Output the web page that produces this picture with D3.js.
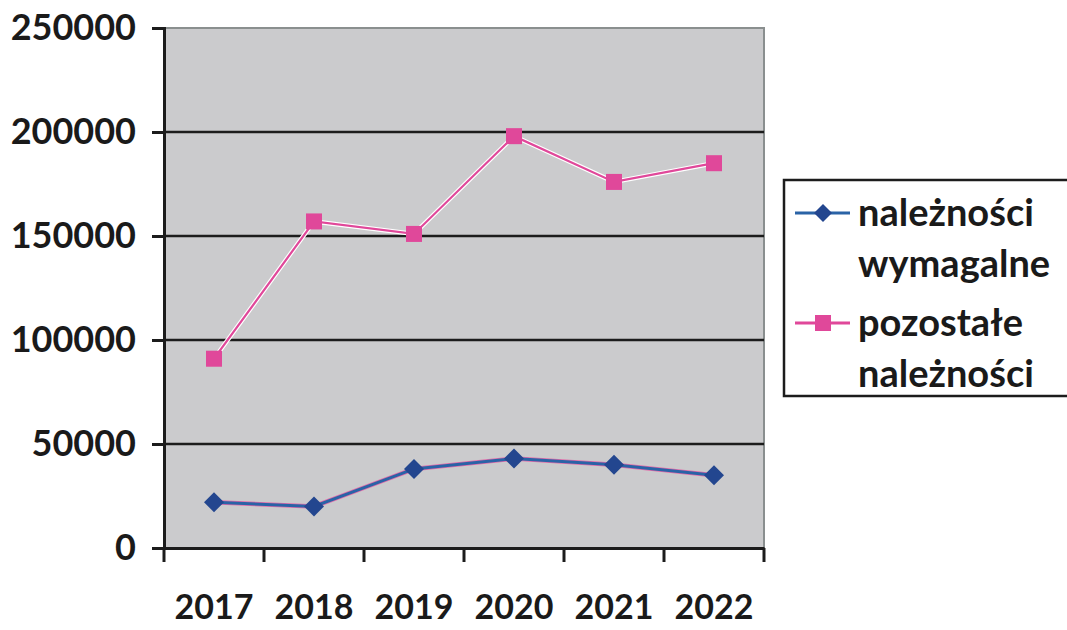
<!DOCTYPE html>
<html>
<head>
<meta charset="utf-8">
<script src="https://cdn.jsdelivr.net/npm/d3@7"></script>
<style>
  body { margin: 0; background: #fff; }
  svg text { font-family: Lato, "Open Sans", sans-serif; font-weight: bold; fill: #1a1a1a; }
</style>
</head>
<body>
<svg id="chart" width="1067" height="630"></svg>
<script>
var years = ["2017", "2018", "2019", "2020", "2021", "2022"];
var wymagalne = [22000, 20000, 38000, 43000, 40000, 35000];
var pozostale = [91000, 157000, 151000, 198000, 176000, 185000];
var yTicks = [0, 50000, 100000, 150000, 200000, 250000];
var legendLabels = [["należności", "wymagalne"], ["pozostałe", "należności"]];

var svg = d3.select("#chart");
var margin = { top: 28, left: 164, right: 303, bottom: 82 };
var width = 1067 - margin.left - margin.right;
var height = 630 - margin.top - margin.bottom;

var x = d3.scaleBand().domain(years).range([0, width]);
var y = d3.scaleLinear().domain([0, 250000]).range([height, 0]);

var g = svg.append("g")
    .attr("transform", "translate(" + margin.left + "," + margin.top + ")");

// plot background
g.append("rect")
    .attr("width", width).attr("height", height)
    .attr("fill", "#cbcbcd")
    .attr("stroke", "#8a8f8f").attr("stroke-width", 2);

// gridlines
g.selectAll(".grid").data(yTicks.slice(1, -1)).enter()
    .append("line")
    .attr("x1", 0).attr("x2", width)
    .attr("y1", d => y(d)).attr("y2", d => y(d))
    .attr("stroke", "#1c1c1c").attr("stroke-width", 2.5);

// y axis
var yAxis = g.append("g")
    .call(d3.axisLeft(y).tickValues(yTicks).tickSize(12).tickPadding(16).tickFormat(d3.format("d")));
yAxis.select(".domain").attr("stroke", "#1c1c1c").attr("stroke-width", 3);
yAxis.selectAll(".tick line").attr("stroke", "#1c1c1c").attr("stroke-width", 3);
yAxis.selectAll("text").attr("font-size", 36).attr("fill", "#1a1a1a");

// x axis
var xAxis = g.append("g")
    .attr("transform", "translate(0," + height + ")")
    .call(d3.axisBottom(x).tickSize(0).tickPadding(47));
xAxis.select(".domain").attr("stroke", "#1c1c1c").attr("stroke-width", 3);
xAxis.selectAll("text").attr("font-size", 34).attr("fill", "#1a1a1a");
xAxis.selectAll(".tickmark")
    .data(d3.range(years.length + 1)).enter()
    .append("line")
    .attr("x1", d => d * x.bandwidth()).attr("x2", d => d * x.bandwidth())
    .attr("y1", 0).attr("y2", 14)
    .attr("stroke", "#1c1c1c").attr("stroke-width", 3);

var cx = d => x(d) + x.bandwidth() / 2;
var line = d3.line().x(d => cx(d.year)).y(d => y(d.v));

var pink = "#e0489a", blue = "#23468f";
var pData = years.map((yr, i) => ({ year: yr, v: pozostale[i] }));
var bData = years.map((yr, i) => ({ year: yr, v: wymagalne[i] }));

// pink series
g.append("path").datum(pData)
    .attr("d", line).attr("fill", "none")
    .attr("stroke", "#fff").attr("stroke-width", 4.5);
g.append("path").datum(pData)
    .attr("d", line).attr("fill", "none")
    .attr("stroke", pink).attr("stroke-width", 2.2);
g.selectAll(".sq").data(pData).enter()
    .append("rect")
    .attr("x", d => cx(d.year) - 8).attr("y", d => y(d.v) - 8)
    .attr("width", 16).attr("height", 16)
    .attr("fill", pink);

// blue series
g.append("path").datum(bData)
    .attr("d", line).attr("fill", "none")
    .attr("stroke", "#e26aa8").attr("stroke-width", 4.5);
g.append("path").datum(bData)
    .attr("d", line).attr("fill", "none")
    .attr("stroke", "#2a63a6").attr("stroke-width", 3);
g.selectAll(".dm").data(bData).enter()
    .append("path")
    .attr("transform", d => "translate(" + cx(d.year) + "," + y(d.v) + ")")
    .attr("d", "M0,-10 L10,0 L0,10 L-10,0 Z")
    .attr("fill", blue);

// legend
var lg = svg.append("g").attr("transform", "translate(784,180)");
lg.append("rect")
    .attr("width", 290).attr("height", 216)
    .attr("fill", "#fff").attr("stroke", "#1c1c1c").attr("stroke-width", 2.5);

var items = lg.selectAll(".item").data(legendLabels).enter()
    .append("g").attr("transform", (d, i) => "translate(0," + (i * 110) + ")");
items.append("line")
    .attr("x1", 11).attr("x2", 66).attr("y1", 33).attr("y2", 33)
    .attr("stroke", (d, i) => i === 0 ? "#2a63a6" : pink).attr("stroke-width", 3);
items.filter((d, i) => i === 0).append("path")
    .attr("transform", "translate(39,33)")
    .attr("d", "M0,-9 L9,0 L0,9 L-9,0 Z").attr("fill", blue);
items.filter((d, i) => i === 1).append("rect")
    .attr("x", 31).attr("y", 25).attr("width", 16).attr("height", 16).attr("fill", pink);
items.append("text")
    .attr("x", 74).attr("y", 46).attr("font-size", 38)
    .text(d => d[0]);
items.append("text")
    .attr("x", 74).attr("y", 97).attr("font-size", 38)
    .text(d => d[1]);
</script>
</body>
</html>
